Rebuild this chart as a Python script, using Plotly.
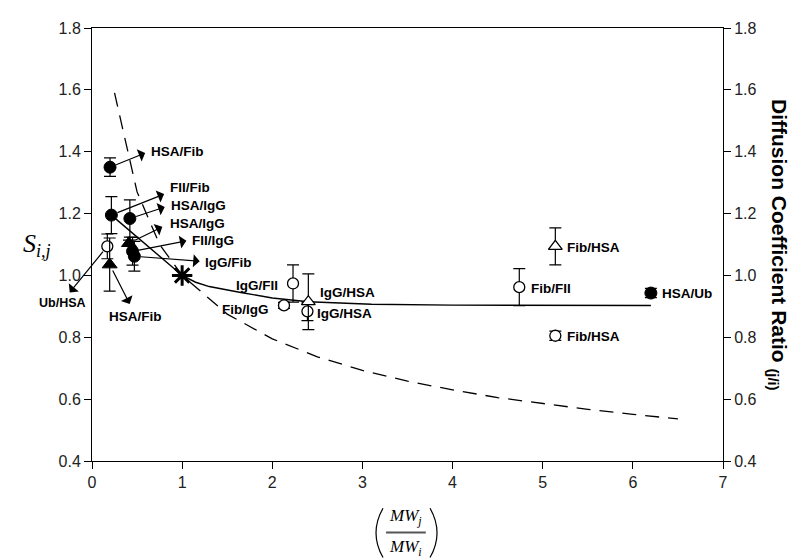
import plotly.graph_objects as go

# ---------------- data ----------------
# filled circles
fc_x = [0.20, 0.215, 0.42, 0.45, 0.47, 6.20]
fc_y = [1.35, 1.195, 1.184, 1.078, 1.062, 0.943]
fc_e = [0.03, 0.06, 0.06, 0.045, 0.048, 0.015]
# open circles
oc_x = [0.17, 2.23, 2.13, 2.39, 4.74, 5.14]
oc_y = [1.094, 0.974, 0.903, 0.884, 0.962, 0.805]
oc_e = [0.04, 0.06, 0.01, 0.03, 0.06, 0.015]
# filled triangles
ft_x = [0.196, 0.41]
ft_y = [1.035, 1.104]
ft_e = [0.086, 0.01]
# open triangles
ot_x = [2.40, 5.14]
ot_y = [0.915, 1.094]
ot_e = [0.09, 0.06]
# reference point (asterisk)
ref_x = [1.0]
ref_y = [1.0]
# solid model curve
sol_x = [0.215, 1.0, 1.15, 1.3, 1.65, 2.0, 2.4, 3.1, 4.0, 4.8, 5.5, 6.2]
sol_y = [1.195, 1.0, 0.978, 0.964, 0.945, 0.927, 0.915, 0.907, 0.904, 0.903, 0.903, 0.903]
# dashed diffusion-ratio curve
dash_x = [0.25, 0.5, 0.75, 1.0, 1.5, 2.0, 2.5, 3.0, 3.5, 4.0, 4.5, 5.0, 5.5, 6.0, 6.5]
dash_y = [1.59, 1.27, 1.10, 1.0, 0.875, 0.795, 0.737, 0.693, 0.658, 0.630,
          0.605, 0.585, 0.567, 0.551, 0.536]

x_ticks = [0, 1, 2, 3, 4, 5, 6, 7]
y_ticks = [0.4, 0.6, 0.8, 1.0, 1.2, 1.4, 1.6, 1.8]

# arrow labels: (text, tail point, head position, label position, anchor)
arrow_labels = [
    ("HSA/Fib", (fc_x[0], fc_y[0]), (0.59, 1.396), (0.63, 1.402), "left"),
    ("FII/Fib", (fc_x[1], fc_y[1]), (0.80, 1.263), (0.84, 1.285), "left"),
    ("HSA/IgG", (fc_x[2], fc_y[2]), (0.807, 1.221), (0.85, 1.227), "left"),
    ("HSA/IgG", (ft_x[1], ft_y[1]), (0.78, 1.157), (0.84, 1.168), "left"),
    ("FII/IgG", (fc_x[3], fc_y[3]), (1.047, 1.112), (1.085, 1.113), "left"),
    ("IgG/Fib", (fc_x[4], fc_y[4]), (1.195, 1.046), (1.23, 1.043), "left"),
    ("Ub/HSA", (oc_x[0], oc_y[0]), (-0.247, 0.945), (-0.33, 0.912), "center"),
    ("HSA/Fib", (ft_x[0], ft_y[0]), (0.418, 0.908), (0.477, 0.866), "center"),
]
# plain labels: (text, x, y, anchor)
plain_labels = [
    ("IgG/FII", 2.087, 0.966, "right"),
    ("IgG/HSA", 2.508, 0.945, "left"),
    ("Fib/IgG", 1.987, 0.890, "right"),
    ("IgG/HSA", 2.475, 0.877, "left"),
    ("Fib/HSA", 5.246, 1.090, "left"),
    ("Fib/FII", 4.847, 0.957, "left"),
    ("HSA/Ub", 6.30, 0.941, "left"),
    ("Fib/HSA", 5.25, 0.801, "left"),
]

X_RANGE = [0, 7]
Y_RANGE = [0.4, 1.8]

fig = go.Figure()

fig.add_trace(go.Scatter(x=dash_x, y=dash_y, mode="lines", yaxis="y2",
                         line=dict(color="black", width=1.3, dash="14px,9px"),
                         showlegend=False, hoverinfo="skip"))
fig.add_trace(go.Scatter(x=sol_x, y=sol_y, mode="lines",
                         line=dict(color="black", width=1.4),
                         showlegend=False, hoverinfo="skip"))

def err(arr):
    return dict(type="data", array=arr, symmetric=True, color="black",
                thickness=1.2, width=6)

fig.add_trace(go.Scatter(x=oc_x, y=oc_y, mode="markers", error_y=err(oc_e),
                         marker=dict(symbol="circle", size=11, color="white",
                                     line=dict(color="black", width=1.3)),
                         showlegend=False))
fig.add_trace(go.Scatter(x=ot_x, y=ot_y, mode="markers", error_y=err(ot_e),
                         marker=dict(symbol="triangle-up", size=12, color="white",
                                     line=dict(color="black", width=1.3)),
                         showlegend=False))
fig.add_trace(go.Scatter(x=ft_x, y=ft_y, mode="markers", error_y=err(ft_e),
                         marker=dict(symbol="triangle-up", size=13, color="black",
                                     line=dict(color="black", width=1)),
                         showlegend=False))
fig.add_trace(go.Scatter(x=fc_x, y=fc_y, mode="markers", error_y=err(fc_e),
                         marker=dict(symbol="circle", size=12, color="black",
                                     line=dict(color="black", width=1)),
                         showlegend=False))
fig.add_trace(go.Scatter(x=ref_x, y=ref_y, mode="markers",
                         marker=dict(symbol="asterisk-open", size=17, color="black",
                                     line=dict(color="black", width=3)),
                         showlegend=False))

lab_font = dict(family="Liberation Sans, Arial", size=13.5, color="black")
annotations = []
for text, (tx, ty), (hx, hy), (lx, ly), anch in arrow_labels:
    annotations.append(dict(x=hx, y=hy, ax=tx, ay=ty, xref="x", yref="y",
                            axref="x", ayref="y", text="", showarrow=True,
                            arrowhead=1, arrowsize=1.8, arrowwidth=1.2,
                            arrowcolor="black", startstandoff=5))
    f = dict(lab_font)
    if lx < X_RANGE[0]:
        # label sits left of the plot area: place it in paper coordinates
        f["size"] = 12.5
        annotations.append(dict(
            x=(lx - X_RANGE[0]) / (X_RANGE[1] - X_RANGE[0]),
            y=(ly - Y_RANGE[0]) / (Y_RANGE[1] - Y_RANGE[0]),
            xref="paper", yref="paper", text="<b>%s</b>" % text,
            showarrow=False, xanchor=anch, yanchor="middle", font=f))
    else:
        annotations.append(dict(x=lx, y=ly, xref="x", yref="y",
                                text="<b>%s</b>" % text, showarrow=False,
                                xanchor=anch, yanchor="middle", font=f))
for text, lx, ly, anch in plain_labels:
    annotations.append(dict(x=lx, y=ly, xref="x", yref="y", text="<b>%s</b>" % text,
                            showarrow=False, xanchor=anch, yanchor="middle",
                            font=lab_font))

# axis titles
serif = "Liberation Serif, Times New Roman"
annotations.append(dict(x=-0.062, y=0.5, xref="paper", yref="paper",
                        text="<i>S</i><sub><i>i,j</i></sub>", showarrow=False,
                        xanchor="right", yanchor="middle",
                        font=dict(family=serif, size=26, color="black")))
annotations.append(dict(x=1.088, y=0.5, xref="paper", yref="paper",
                        text="<b>Diffusion Coefficient Ratio <sub>(j/i)</sub></b>",
                        showarrow=False, textangle=90, xanchor="center",
                        yanchor="middle",
                        font=dict(family="Liberation Sans, Arial", size=21,
                                  color="black")))
annotations.append(dict(x=0.4975, y=-0.130, xref="paper", yref="paper",
                        text="<i>MW<sub>j</sub></i>", showarrow=False,
                        xanchor="center", yanchor="middle",
                        font=dict(family=serif, size=17, color="black")))
annotations.append(dict(x=0.4975, y=-0.200, xref="paper", yref="paper",
                        text="<i>MW<sub>i</sub></i>", showarrow=False,
                        xanchor="center", yanchor="middle",
                        font=dict(family=serif, size=17, color="black")))

shapes = [
    dict(type="line", xref="paper", yref="paper", x0=0.466, x1=0.529,
         y0=-0.165, y1=-0.165, line=dict(color="#555", width=2)),
    dict(type="path", xref="paper", yref="paper",
         path="M 0.4612,-0.109 Q 0.439,-0.166 0.4612,-0.223",
         line=dict(color="black", width=1.2)),
    dict(type="path", xref="paper", yref="paper",
         path="M 0.5357,-0.109 Q 0.5579,-0.166 0.5357,-0.223",
         line=dict(color="black", width=1.2)),
]

tick_font = dict(family="Liberation Sans, Arial", size=16, color="#222")
axis_common = dict(showgrid=False, zeroline=False, showline=True, linecolor="black",
                   linewidth=1, ticks="outside", ticklen=7, tickcolor="black",
                   tickwidth=1, tickfont=tick_font)

fig.update_layout(
    width=800, height=559,
    margin=dict(l=84, r=85, t=13, b=106),
    paper_bgcolor="white", plot_bgcolor="white",
    xaxis=dict(range=X_RANGE, tickvals=x_ticks, mirror=True, **axis_common),
    yaxis=dict(range=Y_RANGE, tickvals=y_ticks, tickformat=".1f", **axis_common),
    yaxis2=dict(range=Y_RANGE, tickvals=y_ticks, tickformat=".1f",
                overlaying="y", side="right", **axis_common),
    annotations=annotations,
    shapes=shapes,
    showlegend=False,
)

fig.write_html("out.html")
